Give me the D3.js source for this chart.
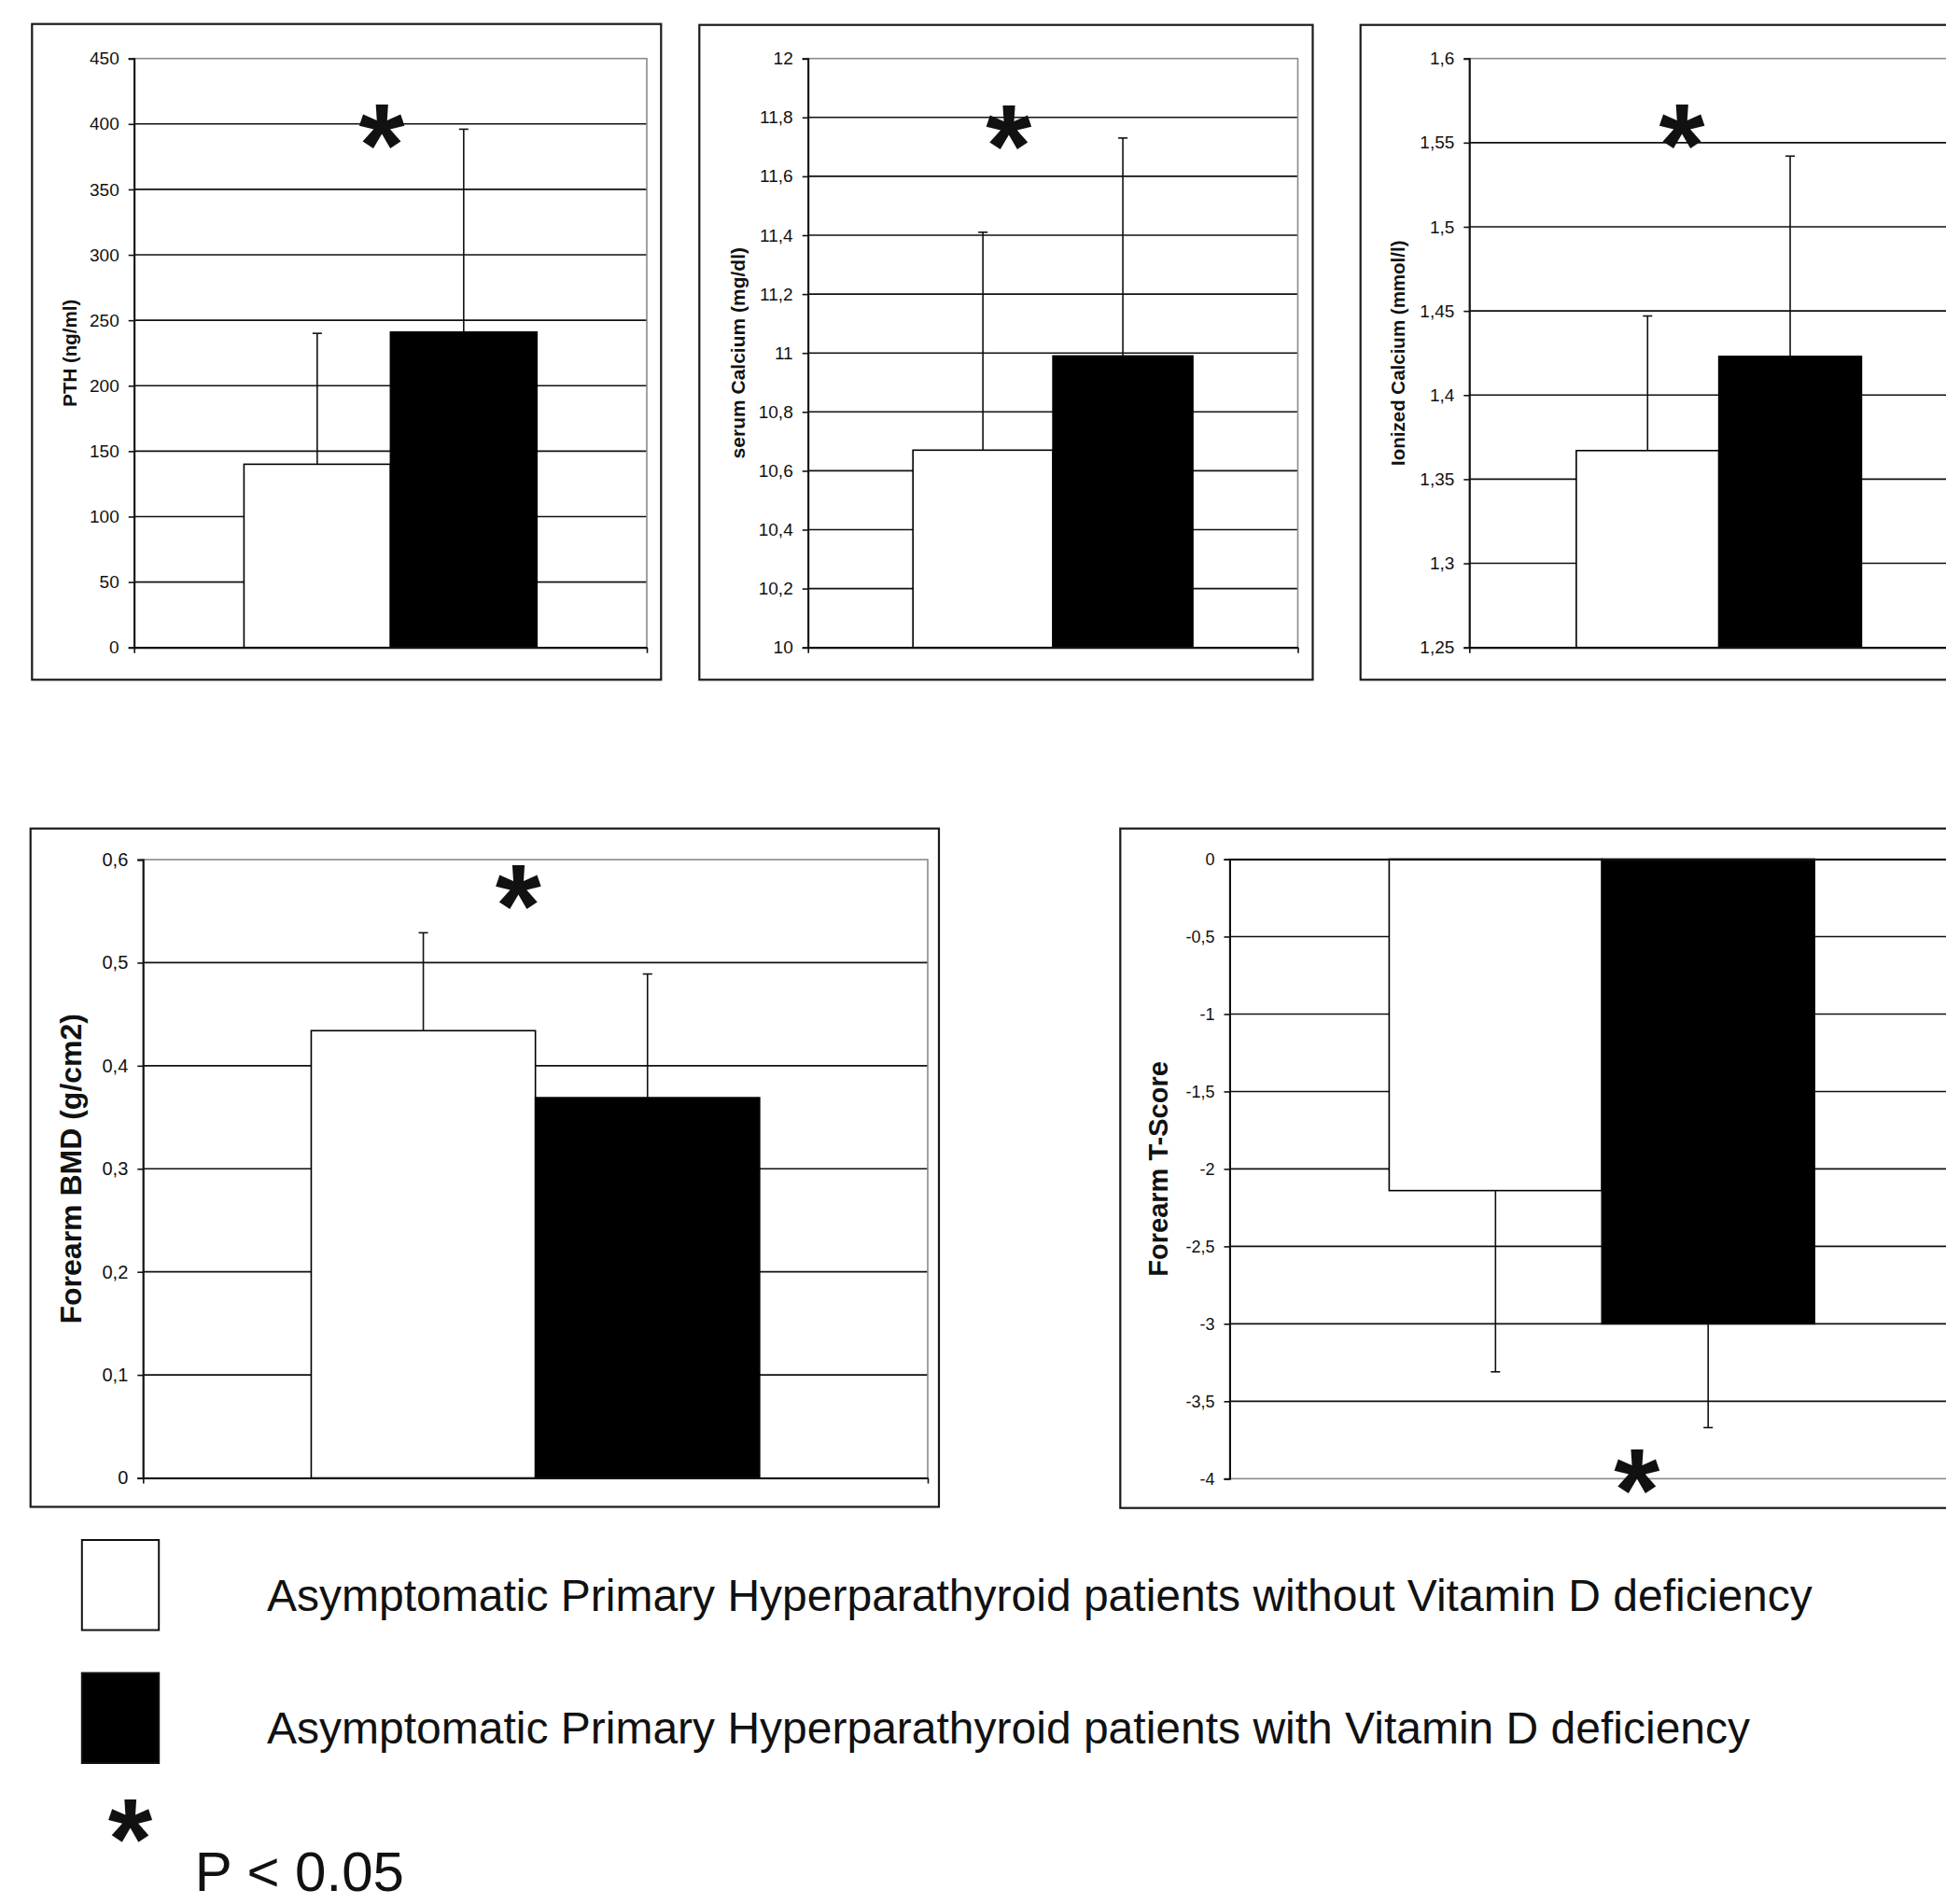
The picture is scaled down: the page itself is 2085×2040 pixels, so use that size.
<!DOCTYPE html>
<html>
<head>
<meta charset="utf-8">
<script src="https://cdn.jsdelivr.net/npm/d3@7"></script>
<style>
  html, body { margin: 0; padding: 0; background: #fff; }
  svg { display: block; }
  text { font-family: "Liberation Sans", Arial, sans-serif; fill: #111; }
</style>
</head>
<body>
<svg id="chart" width="2085" height="2040"></svg>
<script>
// ---------------- DATA ----------------
const seriesNames = [
  "Asymptomatic Primary Hyperparathyroid patients without Vitamin D deficiency",
  "Asymptomatic Primary Hyperparathyroid patients with Vitamin D deficiency"
];
const measures = ["PTH (ng/ml)", "serum Calcium (mg/dl)", "Ionized Calcium (mmol/l)", "Forearm BMD (g/cm2)", "Forearm T-Score"];
const meanWithout = [140, 10.67, 1.367, 0.434, -2.14];
const meanWith    = [241, 10.99, 1.423, 0.369, -3.00];
const sdWithout   = [100, 0.74, 0.080, 0.095, 1.17];
const sdWith      = [155, 0.74, 0.119, 0.120, 0.67];
const axisMin = [0, 10, 1.25, 0, -4];
const axisMax = [450, 12, 1.6, 0.6, 0];
const tickValuesPTH   = [0, 50, 100, 150, 200, 250, 300, 350, 400, 450];
const tickLabelsPTH   = ["0", "50", "100", "150", "200", "250", "300", "350", "400", "450"];
const tickValuesCa    = [10, 10.2, 10.4, 10.6, 10.8, 11, 11.2, 11.4, 11.6, 11.8, 12];
const tickLabelsCa    = ["10", "10,2", "10,4", "10,6", "10,8", "11", "11,2", "11,4", "11,6", "11,8", "12"];
const tickValuesICa   = [1.25, 1.3, 1.35, 1.4, 1.45, 1.5, 1.55, 1.6];
const tickLabelsICa   = ["1,25", "1,3", "1,35", "1,4", "1,45", "1,5", "1,55", "1,6"];
const tickValuesBMD   = [0, 0.1, 0.2, 0.3, 0.4, 0.5, 0.6];
const tickLabelsBMD   = ["0", "0,1", "0,2", "0,3", "0,4", "0,5", "0,6"];
const tickValuesT     = [0, -0.5, -1, -1.5, -2, -2.5, -3, -3.5, -4];
const tickLabelsT     = ["0", "-0,5", "-1", "-1,5", "-2", "-2,5", "-3", "-3,5", "-4"];
const significantLevel = [397.7, 11.765, 1.5596, 0.573, -3.956]; // y value where "*" is marked
const significanceLabel = "P < 0.05";

const tickValueSets = [tickValuesPTH, tickValuesCa, tickValuesICa, tickValuesBMD, tickValuesT];
const tickLabelSets = [tickLabelsPTH, tickLabelsCa, tickLabelsICa, tickLabelsBMD, tickLabelsT];

// ---------------- LAYOUT ----------------
const layout = [
  {frame: [34.3, 25.7, 708.3, 728.3],  plot: [143.7, 62.7, 693, 693.7],    titleX: 74.7,   titleSize: 20.5, tickSize: 19, starX: 0.483},
  {frame: [749.3, 26.7, 1406.5, 728.3], plot: [865.7, 62.7, 1390.5, 693.7], titleX: 790.8,  titleSize: 21,   tickSize: 19, starX: 0.41},
  {frame: [1457.7, 26.7, 2125, 728.3],  plot: [1574.3, 62.7, 2109, 693.7],  titleX: 1497.6, titleSize: 20.5, tickSize: 19, starX: 0.426},
  {frame: [32.7, 887.7, 1006, 1614.5],  plot: [153.3, 921, 994, 1583.5],    titleX: 76,     titleSize: 32,   tickSize: 20, starX: 0.478},
  {frame: [1200.3, 887.7, 2130, 1615.7], plot: [1317.5, 920.5, 2115, 1584.3], titleX: 1240.6, titleSize: 29, tickSize: 18, starX: 0.547}
];
const starFont = 126;
const starLift = 0.50;
const barFill = ["#ffffff", "#000000"];

const svg = d3.select("#chart");
svg.append("rect").attr("width", 2085).attr("height", 2040).attr("fill", "#fff");

measures.forEach((m, i) => {
  const L = layout[i];
  const [px0, py0, px1, py1] = L.plot;
  const g = svg.append("g");

  // frame
  g.append("rect")
    .attr("x", L.frame[0]).attr("y", L.frame[1])
    .attr("width", L.frame[2] - L.frame[0]).attr("height", L.frame[3] - L.frame[1])
    .attr("fill", "none").attr("stroke", "#1a1a1a").attr("stroke-width", 2.2);

  const y = d3.scaleLinear().domain([axisMin[i], axisMax[i]]).range([py1, py0]);
  const xCat = d3.scaleBand().domain([m]).range([px0, px1]).paddingInner(0).paddingOuter(0.375);
  const xSer = d3.scaleBand().domain([0, 1]).range([0, xCat.bandwidth()]).padding(0);

  const ticks = tickValueSets[i];
  const labels = tickLabelSets[i];
  const inner = ticks.filter(t => t !== axisMin[i] && t !== axisMax[i]);

  // gridlines
  g.append("g").selectAll("line").data(inner).join("line")
    .attr("x1", px0).attr("x2", px1)
    .attr("y1", d => y(d)).attr("y2", d => y(d))
    .attr("stroke", "#111").attr("stroke-width", 1.6);

  // plot area border (grey)
  g.append("rect").attr("x", px0).attr("y", py0)
    .attr("width", px1 - px0).attr("height", py1 - py0)
    .attr("fill", "none").attr("stroke", "#8a8a8a").attr("stroke-width", 1.6);

  const base = Math.max(axisMin[i], Math.min(0, axisMax[i]));
  const means = [meanWithout[i], meanWith[i]];
  const sds = [sdWithout[i], sdWith[i]];
  const barData = means.map((v, s) => ({s, v, sd: sds[s]}));

  // bars
  g.append("g").selectAll("rect").data(barData).join("rect")
    .attr("x", d => xCat(m) + xSer(d.s))
    .attr("width", xSer.bandwidth())
    .attr("y", d => Math.min(y(d.v), y(base)))
    .attr("height", d => Math.abs(y(d.v) - y(base)))
    .attr("fill", d => barFill[d.s])
    .attr("stroke", "#000").attr("stroke-width", 1.6);

  // error bars (one-sided, away from baseline)
  const eb = g.append("g").selectAll("g").data(barData).join("g");
  const ebEnd = d => d.v + (d.v >= base ? d.sd : -d.sd);
  const cx = d => xCat(m) + xSer(d.s) + xSer.bandwidth() / 2;
  eb.append("line")
    .attr("x1", cx).attr("x2", cx)
    .attr("y1", d => y(d.v)).attr("y2", d => y(ebEnd(d)))
    .attr("stroke", "#111").attr("stroke-width", 1.6);
  eb.append("line")
    .attr("x1", d => cx(d) - 5).attr("x2", d => cx(d) + 5)
    .attr("y1", d => y(ebEnd(d))).attr("y2", d => y(ebEnd(d)))
    .attr("stroke", "#111").attr("stroke-width", 1.6);

  // y axis
  const yAxis = d3.axisLeft(y).tickValues(ticks)
    .tickFormat((d, k) => labels[k]).tickSize(6).tickPadding(10);
  const ya = g.append("g").attr("transform", `translate(${px0},0)`).call(yAxis);
  ya.select(".domain").attr("stroke", "#111").attr("stroke-width", 2);
  ya.selectAll(".tick line").attr("stroke", "#111").attr("stroke-width", 1.6);
  ya.selectAll(".tick text")
    .style("font-family", "'Liberation Sans', Arial, sans-serif")
    .attr("font-size", L.tickSize).attr("fill", "#111");

  // x (category) axis at base value
  const xLin = d3.scaleLinear().domain([0, 1]).range([px0, px1]);
  const xAxis = d3.axisBottom(xLin).tickValues(base === axisMin[i] ? [0, 1] : []).tickSize(6).tickSizeOuter(0).tickFormat("");
  const xa = g.append("g").attr("transform", `translate(0,${y(base)})`).call(xAxis);
  xa.select(".domain").attr("stroke", "#111").attr("stroke-width", 2.2);
  xa.selectAll(".tick line").attr("stroke", "#111").attr("stroke-width", 1.6);

  // axis title
  const cy = (py0 + py1) / 2;
  g.append("text")
    .attr("transform", `translate(${L.titleX},${cy}) rotate(-90)`)
    .attr("text-anchor", "middle").attr("dy", "0.35em")
    .attr("font-weight", "bold").attr("font-size", L.titleSize)
    .text(m);

  // significance asterisk
  g.append("text")
    .attr("x", px0 + L.starX * (px1 - px0))
    .attr("y", y(significantLevel[i]) + starLift * starFont)
    .attr("text-anchor", "middle")
    .attr("font-weight", "bold").attr("font-size", starFont)
    .text("*");
});

// ---------------- LEGEND ----------------
const legend = svg.append("g");
const legY = [1650, 1792.5];
const legTextY = [1726, 1868];
seriesNames.forEach((name, s) => {
  legend.append("rect")
    .attr("x", 87.8).attr("y", legY[s]).attr("width", 82.4).attr("height", 96.5)
    .attr("fill", barFill[s]).attr("stroke", "#111").attr("stroke-width", 2);
  legend.append("text")
    .attr("x", 286).attr("y", legTextY[s])
    .attr("font-size", 48)
    .text(name);
});
const legStarFont = 122;
legend.append("text")
  .attr("x", 139.6).attr("y", 1951 + starLift * legStarFont)
  .attr("text-anchor", "middle").attr("font-weight", "bold").attr("font-size", legStarFont)
  .text("*");
legend.append("text")
  .attr("x", 208.8).attr("y", 2026)
  .attr("font-size", 60)
  .text(significanceLabel);
</script>
</body>
</html>
